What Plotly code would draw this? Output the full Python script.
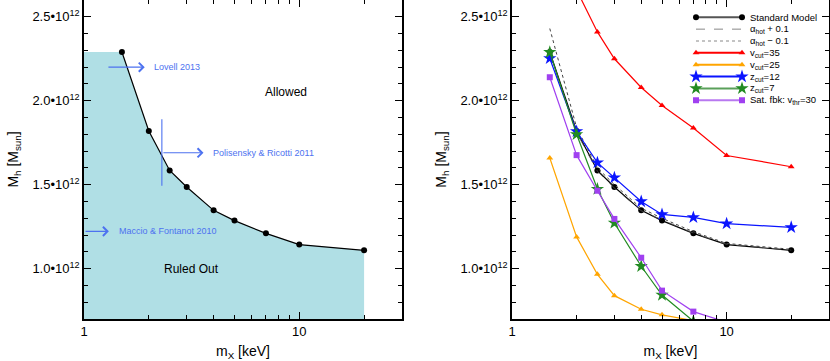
import numpy as np
import plotly.graph_objects as go

# warm dark matter particle mass [keV]
mx = [1.5, 2, 2.5, 3, 4, 5, 7, 10, 20]

# halo mass thresholds in units of 1e12 Msun
std_model = [2.29, 1.82, 1.585, 1.486, 1.347, 1.286, 1.21, 1.143, 1.109]
alpha_plus = [2.28, 1.81, 1.58, 1.48, 1.345, 1.29, 1.212, 1.145, 1.11]
alpha_minus = [2.43, 1.84, 1.60, 1.50, 1.36, 1.30, 1.22, 1.15, 1.115]
vcut35 = [3.20, 2.66, 2.41, 2.25, 2.079, 1.972, 1.837, 1.674, 1.607]
vcut25 = [1.659, 1.189, 0.966, 0.839, 0.758, 0.725, 0.69, 0.65, 0.62]
zcut12 = [2.252, 1.817, 1.631, 1.542, 1.40, 1.323, 1.305, 1.268, 1.246]
zcut7 = [2.289, 1.80, 1.474, 1.272, 1.014, 0.843, 0.687, 0.60, 0.55]
satfbk = [2.14, 1.676, 1.464, 1.296, 1.065, 0.869, 0.744, 0.681, 0.62]

ytick_vals = [1.0, 1.5, 2.0, 2.5]
ytick_text = ["%.1f•10<sup>12</sup>" % v for v in ytick_vals]

FONT = "Liberation Sans, Arial, sans-serif"
ANN_BLUE = "#4d72f0"
W, H = 830, 361

fig = go.Figure()

# left panel: ruled out region
fig.add_trace(go.Scatter(
    x=[1] + mx, y=[std_model[0]] + std_model, mode="lines",
    line=dict(width=0), fill="tozeroy", fillcolor="#b0dfe5",
    showlegend=False, hoverinfo="skip", xaxis="x", yaxis="y"))
fig.add_trace(go.Scatter(
    x=mx, y=std_model, mode="lines+markers",
    line=dict(color="black", width=1.2),
    marker=dict(color="black", size=6),
    showlegend=False, xaxis="x", yaxis="y"))

# right panel
# name, values, colour, symbol, marker size, dash, width, legend line colour
series = [
    ("Standard Model", std_model, "black", "circle", 6, "solid", 1.2, "#555555"),
    ("α<sub>hot</sub> + 0.1", alpha_plus, "#555555", None, 0, "dash", 0.8, "#888888"),
    ("α<sub>hot</sub> − 0.1", alpha_minus, "#444444", None, 0, "dot", 1.0, "#888888"),
    ("v<sub>cut</sub>=35", vcut35, "#ff0000", "triangle-up", 6, "solid", 1.2, "#ff0000"),
    ("v<sub>cut</sub>=25", vcut25, "#ffa500", "triangle-up", 6, "solid", 1.2, "#ffa500"),
    ("z<sub>cut</sub>=12", zcut12, "#0a14ff", "star", 10, "solid", 1.2, "#0a14ff"),
    ("z<sub>cut</sub>=7", zcut7, "#228b22", "star", 10, "solid", 1.2, "#5aa05a"),
    ("Sat. fbk: v<sub>thr</sub>=30", satfbk, "#a040f0", "square", 6, "solid", 1.2, "#b878f0"),
]
for name, vals, col, sym, size, dash, lw, lcol in series:
    fig.add_trace(go.Scatter(
        x=mx, y=vals, name=name, showlegend=False,
        mode="lines+markers" if sym else "lines",
        line=dict(color=col, width=lw, dash=dash),
        marker=dict(color=col, symbol=sym, size=size) if sym else None,
        xaxis="x2", yaxis="y2"))

# hand-made compact legend on a transparent pixel overlay axis
leg_x0, leg_x1, leg_text_x = 696, 742, 749
leg_y0, leg_dy = 17.3, 11.85
for i, (name, vals, col, sym, size, dash, lw, lcol) in enumerate(series):
    yy = leg_y0 + i * leg_dy
    fig.add_trace(go.Scatter(
        x=[leg_x0, leg_x1], y=[yy, yy], showlegend=False, hoverinfo="skip",
        mode="lines+markers" if sym else "lines",
        line=dict(color=lcol, width=2 if sym else 1, dash=dash),
        marker=dict(color=col, symbol=sym, size=size) if sym else None,
        xaxis="x3", yaxis="y3", cliponaxis=False))
    fig.add_annotation(x=leg_text_x, y=yy, xref="x3", yref="y3", text=name,
                       showarrow=False, xanchor="left", yanchor="middle",
                       borderpad=0, font=dict(size=9.5, color="black"))

axis_common = dict(
    type="log", range=[0, np.log10(30)], automargin=False,
    tickvals=[1, 10], ticktext=["1", "10"],
    ticks="inside", ticklen=7, tickwidth=1.2, tickcolor="black",
    minor=dict(ticks="inside", ticklen=4, tickwidth=1, tickcolor="black",
               tickvals=[2, 3, 4, 5, 6, 7, 8, 9, 20, 30]),
    showline=True, linecolor="black", linewidth=1.6, mirror="ticks",
    showgrid=False, zeroline=False,
    tickfont=dict(size=13, color="black"),
    title=dict(text="m<sub>X</sub> [keV]", font=dict(size=14, color="black"), standoff=8),
)
yaxis_common = dict(
    range=[0.7, 2.6], tickvals=ytick_vals, ticktext=ytick_text, automargin=False,
    ticks="inside", ticklen=7, tickwidth=1.2, tickcolor="black",
    minor=dict(ticks="inside", ticklen=4, tickwidth=1, tickcolor="black", dtick=0.1),
    showline=True, linecolor="black", linewidth=1.6, mirror="ticks",
    showgrid=False, zeroline=False,
    tickfont=dict(size=13, color="black"),
    title=dict(text="M<sub>h</sub> [M<sub>sun</sub>]", font=dict(size=14, color="black"), standoff=10),
)

y_dom = [42 / H, 1.0]
fig.update_layout(
    width=W, height=H,
    margin=dict(l=0, r=0, t=0, b=0, autoexpand=False),
    paper_bgcolor="white", plot_bgcolor="rgba(0,0,0,0)",
    font=dict(family=FONT, color="black"),
    xaxis=dict(axis_common, domain=[84 / W, 402 / W], anchor="y"),
    yaxis=dict(yaxis_common, domain=y_dom, anchor="x"),
    xaxis2=dict(axis_common, domain=[512 / W, 829 / W], anchor="y2"),
    yaxis2=dict(yaxis_common, domain=y_dom, anchor="x2"),
    xaxis3=dict(domain=[0, 1], range=[0, W], visible=False, anchor="y3", fixedrange=True),
    yaxis3=dict(domain=[0, 1], range=[H, 0], visible=False, anchor="x3", fixedrange=True),
    showlegend=False,
)

lg = np.log10
# arrows (head at x,y ; tail at ax,ay)
arrows = [
    (1.915, 2.20, 1.278, 2.20),
    (3.59, 1.69, 2.30, 1.69),
    (1.305, 1.222, 1.0, 1.222),
]
for hx, hy, tx, ty in arrows:
    fig.add_annotation(
        x=lg(hx), y=hy, ax=lg(tx), ay=ty, xref="x", yref="y", axref="x", ayref="y",
        text="", showarrow=True, arrowhead=4, arrowsize=1.6, arrowwidth=1.1,
        arrowcolor=ANN_BLUE)
labels = [
    ("Lovell 2013", 2.06, 2.20),
    ("Polisensky & Ricotti 2011", 3.87, 1.69),
    ("Maccio & Fontanot 2010", 1.42, 1.222),
]
for txt, x, y in labels:
    fig.add_annotation(
        x=lg(x), y=y, xref="x", yref="y", text=txt, showarrow=False,
        xanchor="left", yanchor="middle", font=dict(size=9, color=ANN_BLUE))
fig.add_annotation(x=lg(8.7), y=2.05, xref="x", yref="y", text="Allowed",
                   showarrow=False, font=dict(size=12, color="black"))
fig.add_annotation(x=lg(3.16), y=1.0, xref="x", yref="y", text="Ruled Out",
                   showarrow=False, font=dict(size=12, color="black"))

# vertical marker line for Polisensky & Ricotti
fig.add_shape(type="line", xref="x", yref="y", x0=2.30, x1=2.30, y0=1.494, y1=1.889,
              line=dict(color=ANN_BLUE, width=1.1))

# drop the default page margin so the figure sits at the window corner
fig.write_html("out.html",
               config={"displayModeBar": False},
               post_script="document.body.style.margin='0';document.body.style.overflow='hidden';")
